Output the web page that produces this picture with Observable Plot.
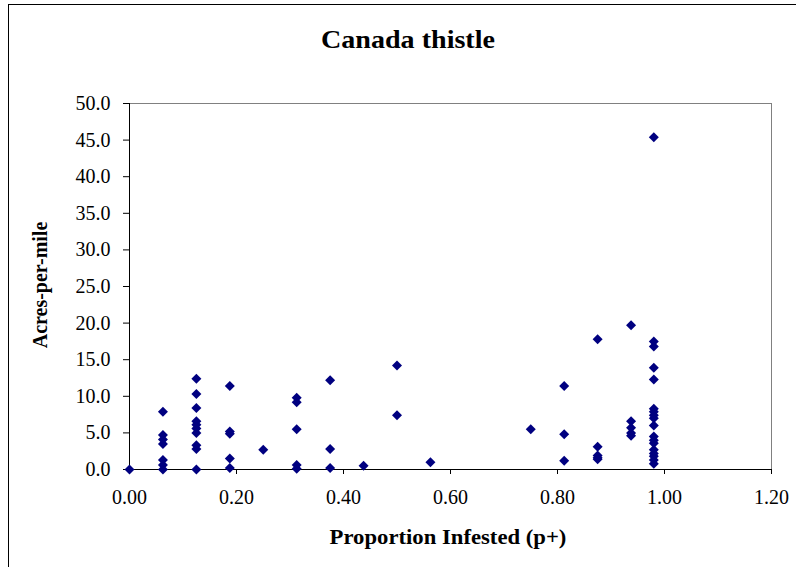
<!DOCTYPE html>
<html><head><meta charset="utf-8">
<script src="https://cdn.jsdelivr.net/npm/d3@7"></script>
<script src="https://cdn.jsdelivr.net/npm/@observablehq/plot@0.6"></script>
<style>
body{margin:0;overflow:hidden;background:#fff;}
#wrap{position:relative;width:796px;height:567px;overflow:hidden;font-family:"Liberation Serif","DejaVu Serif",serif;background:#fff;}
#border{position:absolute;left:8px;top:4px;width:900px;height:700px;border:1px solid #000;}
.t{position:absolute;font-weight:bold;color:#000;white-space:nowrap;}
#chart{position:absolute;left:0;top:0;}
</style></head><body>
<div id="wrap">
<div id="border"></div>
<div id="chart"></div>
<div class="t" id="title" style="left:408px;top:40px;font-size:26px;transform:translate(-50%,-50%) scaleX(1.08);">Canada thistle</div>
<div class="t" id="xtitle" style="left:448px;top:537px;font-size:21px;transform:translate(-50%,-50%) scaleX(1.08);">Proportion Infested (p+)</div>
<div class="t" id="ytitle" style="left:40px;top:285px;font-size:20px;transform:translate(-50%,-50%) rotate(-90deg);">Acres-per-mile</div>
</div>
<script>
// Proportion infested (x) and acres-per-mile (y)
const proportion = [
  0,
  0.0625,0.0625,0.0625,0.0625,0.0625,0.0625,0.0625,
  0.125,0.125,0.125,0.125,0.125,0.125,0.125,0.125,0.125,0.125,
  0.1875,0.1875,0.1875,0.1875,0.1875,
  0.25,
  0.3125,0.3125,0.3125,0.3125,0.3125,
  0.375,0.375,0.375,
  0.4375,
  0.5,0.5,
  0.5625,
  0.75,
  0.8125,0.8125,0.8125,
  0.875,0.875,0.875,0.875,0.875,
  0.9375,0.9375,0.9375,0.9375,0.9375,
  0.98,0.98,0.98,0.98,0.98,0.98,0.98,0.98,0.98,0.98,0.98,0.98,0.98,0.98,0.98,0.98,0.98,0.98
];
const acres = [
  0.0,
  7.9,4.7,4.1,3.5,1.3,0.6,0.0,
  12.4,10.3,8.4,6.6,6.1,5.6,5.0,3.3,2.8,0.0,
  11.4,5.2,4.9,1.5,0.2,
  2.7,
  9.8,9.2,5.5,0.6,0.1,
  12.2,2.8,0.2,
  0.5,
  14.2,7.4,
  1.0,
  5.5,
  11.4,4.8,1.2,
  17.8,3.1,1.9,1.6,1.4,
  19.7,6.6,5.7,5.0,4.6,
  45.4,17.5,16.8,13.9,12.3,8.3,7.9,7.4,7.0,6.0,4.5,4.0,3.6,2.7,2.2,1.8,1.3,0.8
];
const xTicks = [0,0.2,0.4,0.6,0.8,1.0,1.2];
const yTicks = [0,5,10,15,20,25,30,35,40,45,50];

const data = proportion.map((p,i)=>({p, a: acres[i]}));

const chart = Plot.plot({
  width:796, height:567,
  marginLeft:129, marginRight:25, marginTop:103, marginBottom:98,
  style:{fontFamily:"'Liberation Serif','DejaVu Serif',serif", fontSize:"20px", background:"transparent", color:"#000", overflow:"visible"},
  x:{domain:[0,1.2]},
  y:{domain:[0,50]},
  marks:[
    Plot.frame({stroke:"#808080"}),
    Plot.axisX({ticks:xTicks, tickSize:5, tickPadding:15, label:null, tickFormat:d=>d.toFixed(2), fontSize:20}),
    Plot.axisY({ticks:yTicks, tickSize:6, tickPadding:13, label:null, tickFormat:d=>d.toFixed(1), fontSize:20}),
    Plot.ruleX([0],{stroke:"#000"}),
    Plot.ruleY([0],{stroke:"#000"}),
    Plot.dot(data,{x:"p", y:"a", symbol:"diamond2", r:4.5, fill:"#000080", stroke:"none"})
  ]
});
document.getElementById("chart").appendChild(chart);
</script>
</body></html>
